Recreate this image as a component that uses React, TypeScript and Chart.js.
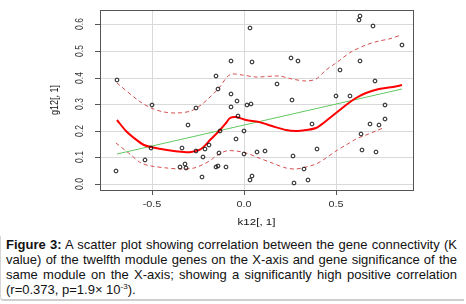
import React, { useEffect, useRef } from "react";
import { Chart, registerables } from "chart.js";

Chart.register(...registerables);

// ---- data ----
const pointX = [
  -0.686, 0.033, -0.070, 0.042, 0.253, 0.291, -0.153, 0.177, -0.141, -0.070,
  -0.040, 0.258, 0.628, 0.620, 0.699, 0.858, 0.628, 0.517, 0.708, 0.497,
  0.574, -0.500, -0.258, -0.305, -0.502, -0.334, -0.260, -0.213, -0.190, -0.220,
  -0.534, -0.693, -0.348, -0.321, -0.314, -0.225, 0.015, 0.040, -0.032, -0.130,
  0.000, -0.043, 0.367, -0.135, 0.002, 0.072, 0.112, 0.266, -0.142, -0.151,
  -0.098, 0.325, 0.045, 0.033, 0.273, 0.349, 0.396, 0.681, 0.733, 0.762,
  0.636, 0.638, 0.713, 0.762, -0.073,
];
const pointY = [
  0.391, 0.585, 0.462, 0.457, 0.472, 0.464, 0.407, 0.375, 0.356, 0.338,
  0.313, 0.316, 0.630, 0.617, 0.595, 0.524, 0.461, 0.427, 0.388, 0.332,
  0.331, 0.297, 0.286, 0.221, 0.135, 0.134, 0.125, 0.130, 0.148, 0.102,
  0.088, 0.049, 0.065, 0.076, 0.061, 0.027, 0.296, 0.301, 0.257, 0.200,
  0.199, 0.167, 0.227, 0.117, 0.114, 0.120, 0.124, 0.104, 0.069, 0.063,
  0.065, 0.055, 0.029, 0.015, 0.004, 0.016, 0.130, 0.224, 0.221, 0.245,
  0.187, 0.129, 0.119, 0.297, 0.289,
];

const fitX = [-0.686, 0.858];
const fitY = [0.112, 0.355];

const loessX = [
  -0.686, -0.641, -0.596, -0.542, -0.502, -0.415, -0.325, -0.289, -0.235, -0.180,
  -0.130, -0.099, -0.077, -0.045, 0.009, 0.081, 0.154, 0.226, 0.280, 0.334,
  0.388, 0.443, 0.497, 0.551, 0.605, 0.659, 0.731, 0.804, 0.858,
];
const loessY = [
  0.239, 0.198, 0.173, 0.148, 0.138, 0.129, 0.120, 0.120, 0.133, 0.167,
  0.202, 0.229, 0.248, 0.251, 0.242, 0.233, 0.217, 0.202, 0.198, 0.202,
  0.211, 0.236, 0.267, 0.298, 0.323, 0.343, 0.357, 0.366, 0.371,
];

const upperX = [
  -0.686, -0.569, -0.505, -0.433, -0.361, -0.289, -0.235, -0.190, -0.135, -0.090,
  -0.063, -0.009, 0.063, 0.190, 0.262, 0.334, 0.388, 0.443, 0.497, 0.578,
  0.659, 0.731, 0.786, 0.849,
];
const upperY = [
  0.379, 0.313, 0.286, 0.271, 0.267, 0.273, 0.298, 0.323, 0.360, 0.403,
  0.414, 0.410, 0.403, 0.406, 0.394, 0.387, 0.394, 0.429, 0.454, 0.497,
  0.523, 0.539, 0.544, 0.560,
];

const lowerX = [
  -0.695, -0.614, -0.560, -0.505, -0.415, -0.343, -0.271, -0.217, -0.180, -0.153,
  -0.099, -0.045, 0.009, 0.081, 0.154, 0.226, 0.280, 0.334, 0.388, 0.443,
  0.497, 0.551, 0.605, 0.659, 0.713, 0.750,
];
const lowerY = [
  0.155, 0.110, 0.079, 0.066, 0.058, 0.056, 0.060, 0.075, 0.091, 0.104,
  0.123, 0.125, 0.117, 0.098, 0.079, 0.060, 0.056, 0.063, 0.076, 0.098,
  0.125, 0.148, 0.167, 0.185, 0.198, 0.211,
];

const xTicks = [-0.5, 0, 0.5];
const xTickLabels = ["-0.5", "0.0", "0.5"];
const yTicks = [0, 0.1, 0.2, 0.3, 0.4, 0.5, 0.6];
const yTickLabels = ["0.0", "0.1", "0.2", "0.3", "0.4", "0.5", "0.6"];
const xTitle = "k12[, 1]";
const yTitle = "g12[, 1]";

const toXY = (xs: number[], ys: number[]) => xs.map((x, i) => ({ x, y: ys[i] }));

const STRETCH = 1.28;
const AXIS_FONT = '8.5px "Liberation Sans", Arial, sans-serif';
const TITLE_FONT = '9px "Liberation Sans", Arial, sans-serif';

const framePlugin = {
  id: "frame",
  beforeDatasetsDraw(chart: any) {
    const { ctx, chartArea } = chart;
    ctx.save();
    ctx.strokeStyle = "#555";
    ctx.lineWidth = 1;
    ctx.strokeRect(
      Math.round(chartArea.left) + 0.5,
      Math.round(chartArea.top) + 0.5,
      Math.round(chartArea.right - chartArea.left),
      Math.round(chartArea.bottom - chartArea.top)
    );
    ctx.restore();
  },
};

const axisTextPlugin = {
  id: "axisText",
  afterDraw(chart: any) {
    const { ctx, chartArea, scales } = chart;
    ctx.save();
    ctx.textAlign = "center";
    ctx.textBaseline = "middle";
    ctx.fillStyle = "#333";
    ctx.font = AXIS_FONT;
    xTicks.forEach((v, i) => {
      const px = scales.x.getPixelForValue(v);
      ctx.save();
      ctx.translate(px, chartArea.bottom + 15);
      ctx.scale(STRETCH, 1);
      ctx.fillText(xTickLabels[i], 0, 0);
      ctx.restore();
    });
    yTicks.forEach((v, i) => {
      const py = scales.y.getPixelForValue(v);
      ctx.save();
      ctx.translate(chartArea.left - 20, py);
      ctx.scale(STRETCH, 1);
      ctx.rotate(-Math.PI / 2);
      ctx.fillText(yTickLabels[i], 0, 0);
      ctx.restore();
    });
    ctx.fillStyle = "#111";
    ctx.font = TITLE_FONT;
    ctx.save();
    ctx.translate((chartArea.left + chartArea.right) / 2, chartArea.bottom + 33);
    ctx.scale(STRETCH, 1);
    ctx.fillText(xTitle, 0, 0);
    ctx.restore();
    ctx.save();
    ctx.translate(chartArea.left - 45, (chartArea.top + chartArea.bottom) / 2);
    ctx.scale(STRETCH, 1);
    ctx.rotate(-Math.PI / 2);
    ctx.fillText(yTitle, 0, 0);
    ctx.restore();
    ctx.restore();
  },
};

function ScatterChart() {
  const ref = useRef<HTMLCanvasElement | null>(null);
  useEffect(() => {
    if (!ref.current) return;
    const dashed = "#d65050";
    const chart = new Chart(ref.current, {
      type: "scatter",
      data: {
        datasets: [
          {
            data: toXY(pointX, pointY),
            pointStyle: "circle",
            pointRadius: 1.9,
            borderWidth: 1,
            borderColor: "#111",
            backgroundColor: "rgba(0,0,0,0)",
          },
          {
            data: toXY(loessX, loessY),
            showLine: true,
            borderColor: "#ff0000",
            borderWidth: 2,
            pointRadius: 0,
            tension: 0.3,
            fill: false,
          },
          {
            data: toXY(fitX, fitY),
            showLine: true,
            borderColor: "#62c862",
            borderWidth: 1,
            pointRadius: 0,
            fill: false,
          },
          {
            data: toXY(upperX, upperY),
            showLine: true,
            borderColor: dashed,
            borderWidth: 1,
            borderDash: [4, 3],
            pointRadius: 0,
            tension: 0.3,
            fill: false,
          },
          {
            data: toXY(lowerX, lowerY),
            showLine: true,
            borderColor: dashed,
            borderWidth: 1,
            borderDash: [4, 3],
            pointRadius: 0,
            tension: 0.3,
            fill: false,
          },
        ] as any,
      },
      options: {
        animation: false,
        responsive: false,
        devicePixelRatio: 1,
        layout: { padding: { left: 0, top: 10, right: 53, bottom: 0 } },
        plugins: { legend: { display: false }, tooltip: { enabled: false } },
        scales: {
          x: {
            type: "linear",
            min: -0.78,
            max: 0.915,
            alignToPixels: true,
            afterBuildTicks: (s: any) => {
              s.ticks = xTicks.map((v) => ({ value: v }));
            },
            afterFit: (s: any) => {
              s.height = 42;
            },
            grid: { color: "#d9d9d9", tickColor: "#555", tickLength: 5, drawTicks: true, lineWidth: 1 },
            border: { display: false },
            ticks: { display: false },
          },
          y: {
            type: "linear",
            min: -0.023,
            max: 0.654,
            alignToPixels: true,
            afterBuildTicks: (s: any) => {
              s.ticks = yTicks.map((v) => ({ value: v }));
            },
            afterFit: (s: any) => {
              s.width = 100;
            },
            grid: { color: "#d9d9d9", tickColor: "#555", tickLength: 5, drawTicks: true, lineWidth: 1 },
            border: { display: false },
            ticks: { display: false },
          },
        },
      } as any,
      plugins: [framePlugin, axisTextPlugin],
    });
    return () => chart.destroy();
  }, []);
  return <canvas ref={ref} width={466} height={232} style={{ display: "block" }} />;
}

export default function App() {
  const lineStyle: React.CSSProperties = {
    textAlign: "justify",
    textAlignLast: "justify" as any,
    whiteSpace: "nowrap",
    height: "15.1px",
  };
  return (
    <div style={{ position: "fixed", left: 0, top: 0, width: 466, height: 304, background: "#fff" }}>
      <div style={{ position: "absolute", left: 0, top: 0 }}>
        <ScatterChart />
      </div>
      <div
        style={{
          position: "absolute",
          left: 0,
          top: 236,
          width: 464,
          height: 65,
          borderLeft: "1px solid #d6d6d6",
          borderBottom: "2px solid #cfcfcf",
          borderBottomLeftRadius: 4,
          boxSizing: "border-box",
        }}
      />
      <div
        style={{
          position: "absolute",
          left: 6,
          top: 236.5,
          width: 451,
          fontFamily: '"Liberation Sans", Arial, sans-serif',
          fontSize: 13,
          lineHeight: "15.1px",
          color: "#111",
        }}
      >
        <div style={lineStyle}>
          <b>Figure 3:</b> A scatter plot showing correlation between the gene connectivity (K
        </div>
        <div style={lineStyle}>
          value) of the twelfth module genes on the X-axis and gene significance of the
        </div>
        <div style={lineStyle}>
          same module on the X-axis; showing a significantly high positive correlation
        </div>
        <div style={{ height: "15.1px", whiteSpace: "nowrap" }}>
          (r=0.373, p=1.9× 10
          <sup style={{ fontSize: 8, lineHeight: 0, verticalAlign: "5px" }}>-3</sup>).
        </div>
      </div>
    </div>
  );
}
